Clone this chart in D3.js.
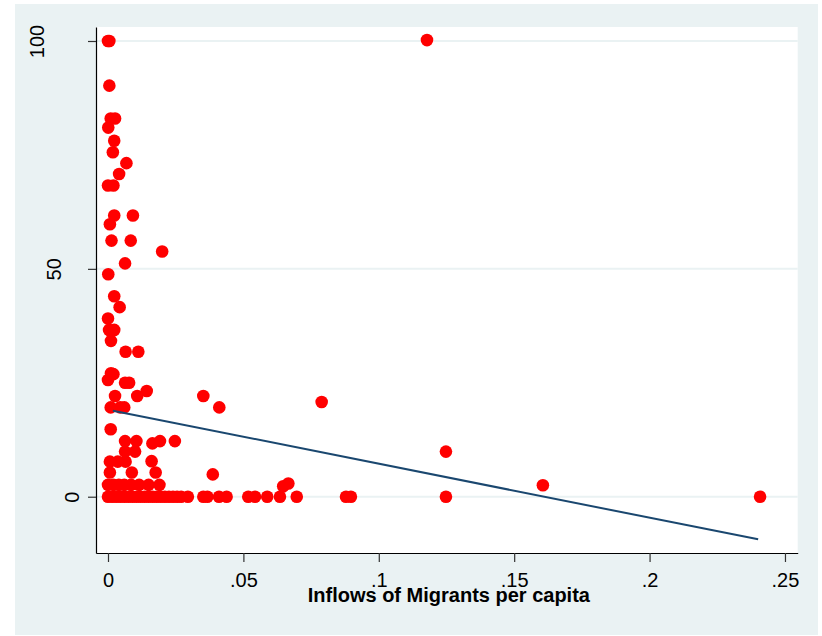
<!DOCTYPE html>
<html>
<head>
<meta charset="utf-8">
<script src="https://cdn.jsdelivr.net/npm/d3@7"></script>
<style>
  body { margin: 0; background: #fff; }
  text { font-family: "Liberation Sans", Arial, sans-serif; }
</style>
</head>
<body>
<script>
// colours (Stata s2color look)
var bgColor = "#EAF2F3";
var dotColor = "#FF0000";
var fitColor = "#1A476F";

// scatter data: inflows of migrants per capita (x) vs outcome (y)
var migrantsX = [
  0, 0.0005, 0.0005, 0.001, 0.0026, 0.0001, 0.0023, 0.0018, 0.0068, 0.0041,
  0, 0.002, 0.0023, 0.0092, 0.0007, 0.0013, 0.0084, 0.020, 0.0063, 0.0001,
  0.0023, 0.0043, 0, 0.0004, 0.0023, 0.0011, 0.0065, 0.0112, 0.0011, 0.002,
  0, 0.0063, 0.0078, 0.0143, 0.0026, 0.0108, 0.001, 0.0045, 0.006, 0.001,
  0.0063, 0.0105, 0.0164, 0.0192, 0.0247, 0.0063, 0.01, 0.0007, 0.0036, 0.0065,
  0.0161, 0.0007, 0.0088, 0.0176, 0, 0.002, 0.004, 0.006, 0.0085, 0.0115,
  0.015, 0.019, 0.0387, 0.0352, 0.0411, 0.0647, 0.0666, 0.0789, 0.1248, 0.1606,
  0.1178,
  0, 0.0015, 0.003, 0.0045, 0.006, 0.0075, 0.009, 0.0105, 0.012, 0.0135,
  0.015, 0.0165, 0.018, 0.0195, 0.021, 0.0225, 0.024, 0.0255, 0.027, 0.0295,
  0.0352, 0.0367, 0.041, 0.0438, 0.0518, 0.0543, 0.0588, 0.0635, 0.0697, 0.0879,
  0.0897, 0.1248, 0.2408
];
var outcomeY = [
  100, 100, 90.2, 83.0, 83.0, 81.0, 78.1, 75.6, 73.2, 70.8,
  68.3, 68.3, 61.7, 61.7, 59.8, 56.2, 56.2, 53.8, 51.2, 48.8,
  44.0, 41.6, 39.1, 36.6, 36.6, 34.2, 31.8, 31.8, 27.1, 26.9,
  25.6, 25.0, 25.0, 23.2, 22.1, 22.1, 19.6, 19.6, 19.6, 14.8,
  12.2, 12.2, 11.7, 12.2, 12.2, 9.9, 9.9, 7.7, 7.7, 7.7,
  7.8, 5.3, 5.3, 5.3, 2.6, 2.6, 2.6, 2.6, 2.6, 2.6,
  2.6, 2.6, 4.9, 22.1, 19.6, 2.3, 2.9, 20.8, 9.9, 2.5,
  100.2,
  0, 0, 0, 0, 0, 0, 0, 0, 0, 0,
  0, 0, 0, 0, 0, 0, 0, 0, 0, 0,
  0, 0, 0, 0, 0, 0, 0, 0, 0, 0,
  0, 0, 0
];

// fitted line endpoints
var fitX = [0.0018, 0.2401];
var fitY = [18.87, -9.35];

// ticks
var xTicks = [0, 0.05, 0.1, 0.15, 0.2, 0.25];
var xTickLabels = ["0", ".05", ".1", ".15", ".2", ".25"];
var yTicks = [0, 50, 100];
var xTitle = "Inflows of Migrants per capita";

var width = 822, height = 636;
var plotLeft = 96, plotRight = 797.7, plotTop = 27, plotBottom = 553;

var svg = d3.select("body").append("svg")
    .attr("width", width)
    .attr("height", height);

// outer graph region
svg.append("rect")
    .attr("x", 15).attr("y", 4)
    .attr("width", 803).attr("height", 631)
    .attr("fill", bgColor);

// plot region
svg.append("rect")
    .attr("x", plotLeft).attr("y", plotTop)
    .attr("width", plotRight - plotLeft).attr("height", plotBottom - plotTop)
    .attr("fill", "#fff");

var x = d3.scaleLinear().domain([-0.00443, 0.2547]).range([plotLeft, plotRight]);
var y = d3.scaleLinear().domain([-12.35, 103.07]).range([plotBottom, plotTop]);

// grid lines
svg.append("g").selectAll("line")
    .data(yTicks)
    .enter().append("line")
    .attr("x1", plotLeft).attr("x2", plotRight)
    .attr("y1", function (d) { return y(d); })
    .attr("y2", function (d) { return y(d); })
    .attr("stroke", bgColor)
    .attr("stroke-width", 2);

// points
var points = d3.range(migrantsX.length).map(function (i) {
    return { x: migrantsX[i], y: outcomeY[i] };
});
svg.append("g").selectAll("circle")
    .data(points)
    .enter().append("circle")
    .attr("cx", function (d) { return x(d.x); })
    .attr("cy", function (d) { return y(d.y); })
    .attr("r", 6.3)
    .attr("fill", dotColor);

// fitted values
var fitData = fitX.map(function (v, i) { return [v, fitY[i]]; });
svg.append("path")
    .datum(fitData)
    .attr("d", d3.line().x(function (d) { return x(d[0]); }).y(function (d) { return y(d[1]); }))
    .attr("fill", "none")
    .attr("stroke", fitColor)
    .attr("stroke-width", 2);

// x axis
var xAxis = svg.append("g")
    .attr("transform", "translate(0," + plotBottom + ")")
    .call(d3.axisBottom(x).tickValues(xTicks)
        .tickFormat(function (d, i) { return xTickLabels[i]; })
        .tickSize(9).tickPadding(6).tickSizeOuter(0));
xAxis.select(".domain").attr("stroke", "#000").attr("stroke-width", 1.2);
xAxis.selectAll(".tick line").attr("stroke", "#333").attr("stroke-width", 1.2);
xAxis.selectAll(".tick text")
    .attr("font-size", 20)
    .attr("fill", "#000")
    .attr("dy", null)
    .attr("y", 34);

// y axis
var yAxis = svg.append("g")
    .attr("transform", "translate(" + plotLeft + ",0)")
    .call(d3.axisLeft(y).tickValues(yTicks)
        .tickFormat(d3.format("d"))
        .tickSize(8).tickSizeOuter(0));
yAxis.select(".domain").attr("stroke", "#000").attr("stroke-width", 1.2);
yAxis.selectAll(".tick line").attr("stroke", "#333").attr("stroke-width", 1.2);
yAxis.selectAll(".tick text")
    .attr("font-size", 20)
    .attr("fill", "#000")
    .attr("text-anchor", "middle")
    .attr("transform", "rotate(-90)")
    .attr("x", 0)
    .attr("dy", null)
    .attr("y", function (d) {
        var len = String(d).length;
        var centerX = 89 - 17.5 * len;
        return centerX + 7.2 - plotLeft;
    });

// axis title
svg.append("text")
    .attr("x", (plotLeft + plotRight) / 2 + 2)
    .attr("y", 602)
    .attr("text-anchor", "middle")
    .attr("font-size", 20)
    .attr("font-weight", "bold")
    .attr("fill", "#000")
    .text(xTitle);
</script>
</body>
</html>
